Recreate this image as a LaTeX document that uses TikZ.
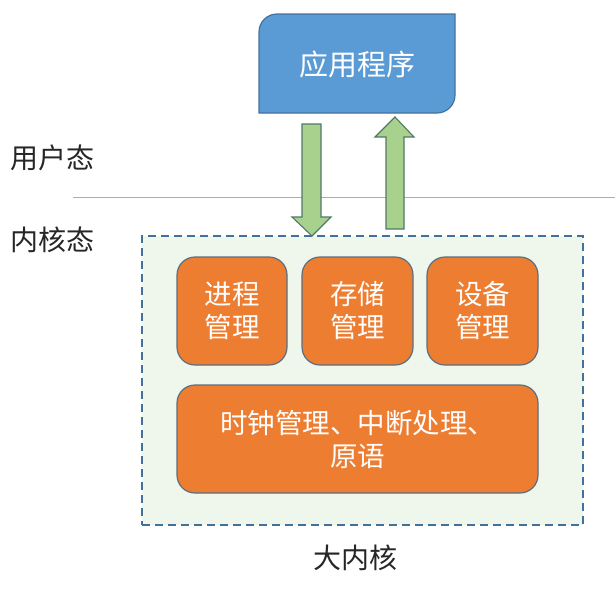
\documentclass[tikz,border=0pt]{standalone}
\usepackage{fontspec}
\setmainfont{Noto Sans CJK SC}
\begin{document}
\begin{tikzpicture}[x=1pt,y=-1pt,
  obox/.style={draw=boxedge,line width=1.2pt,fill=orangefill,rounded corners=18pt,text=white,font=\fontsize{27.5}{33}\selectfont,align=center},
  lbl/.style={font=\fontsize{28}{32}\selectfont,text=black!85,inner sep=0pt},
  bigarrow/.style={draw=arrowedge,line width=1.1pt,fill=arrowfill,line join=miter}]
\definecolor{orangefill}{HTML}{ED7D31}
\definecolor{boxedge}{HTML}{5C6F80}
\definecolor{bluefill}{HTML}{5B9BD5}
\definecolor{blueedge}{HTML}{41719C}
\definecolor{arrowfill}{HTML}{A9D18E}
\definecolor{arrowedge}{HTML}{4F7866}
\definecolor{kernfill}{HTML}{EFF7EC}
\definecolor{dashcol}{HTML}{41719C}
\definecolor{linecol}{HTML}{8FB4D9}
\useasboundingbox (0,0) rectangle (615,590);
% horizontal divider
\coordinate (L1) at (73,197);
\coordinate (L2) at (615,197);
\draw[linecol,line width=1pt] (L1) -- (L2);
% kernel dashed region
\node[draw=dashcol,dash pattern=on 8pt off 5pt,line width=1.2pt,fill=kernfill,minimum width=441pt,minimum height=289pt,inner sep=0pt] (kern) at (362.5,380.5) {};
% application box (rounded top-left and bottom-right)
\draw[draw=blueedge,line width=1.2pt,fill=bluefill]
  (259,32) arc[start angle=180,end angle=270,radius=18] -- (455,14) -- (455,95)
  arc[start angle=0,end angle=90,radius=18] -- (259,113) -- cycle;
\node[text=white,font=\fontsize{29}{34}\selectfont] (app) at (357,64) {应用程序};
% arrows
\draw[bigarrow] (302,124) -- (321,124) -- (321,217) -- (331,217) -- (312,236) -- (292,217) -- (302,217) -- cycle;
\draw[bigarrow] (386,229) -- (404,229) -- (404,137) -- (414,137) -- (395,117) -- (375,137) -- (386,137) -- cycle;
% inner boxes
\node[obox,minimum width=110pt,minimum height=108pt] (proc) at (232,311) {进程\\管理};
\node[obox,minimum width=111pt,minimum height=108pt] (mem) at (357.5,311) {存储\\管理};
\node[obox,minimum width=111pt,minimum height=108pt] (dev) at (482.5,311) {设备\\管理};
\node[obox,minimum width=361pt,minimum height=108pt] (low) at (357.5,439) {时钟管理、中断处理、\\原语};
% labels
\node[lbl,anchor=west] (user) at (10,158) {用户态};
\node[lbl,anchor=west] (kstate) at (10,240) {内核态};
\node[lbl] (big) at (355,558) {大内核};
\end{tikzpicture}
\end{document}
